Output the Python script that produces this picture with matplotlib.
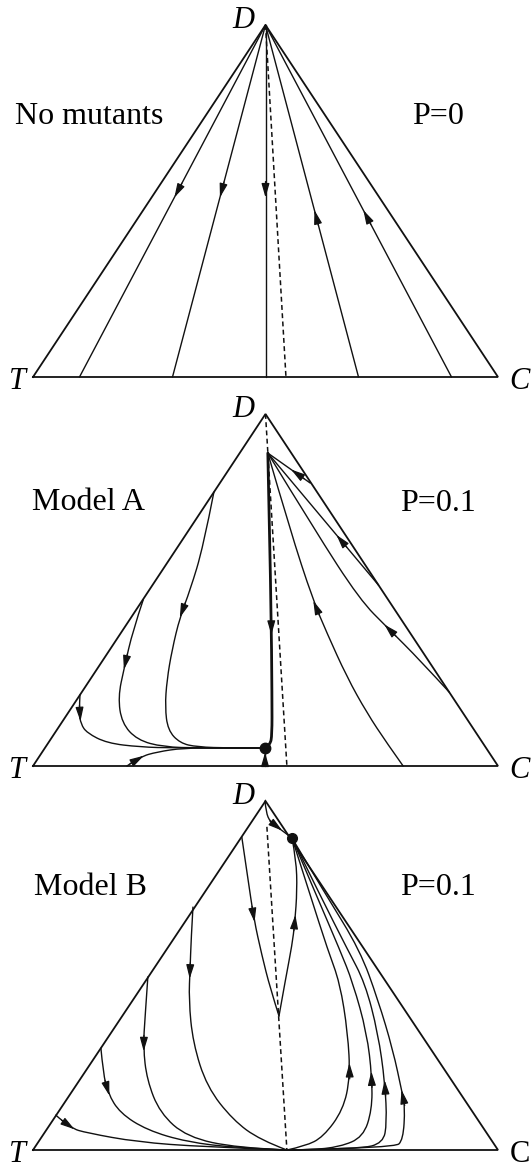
import numpy as np
import matplotlib
matplotlib.use('Agg')
import matplotlib.pyplot as plt
from matplotlib.path import Path
from matplotlib.patches import PathPatch

plt.rcParams['font.family'] = ['Liberation Serif', 'DejaVu Serif']

# positions are in the triangle plane: x runs T->C along the base, y is the share of D
# (T = (0,0), C = (1,0), D = (0.5,1))

# --- panel 1: no mutants, straight lines from D to the base
nomut_base_x = [0.1, 0.3, 0.5, 0.7, 0.9]
nomut_flow = ['down', 'down', 'down', 'up', 'up']
nomut_arrow = [0.49, 0.49, 0.49, 0.474, 0.474]
nomut_dash = [(0.5, 1.0), (0.544, 0.0)]

# --- panel 2: model A
a_dot = (0.499, 0.051)
a_dash = [(0.5, 1.0), (0.546, 0.0)]
a_stem = [(0.505, 0.889), (0.512, 0.472), (0.514, 0.188), (0.514, 0.088), (0.510, 0.060), (0.499, 0.051)]
a_right1 = [(0.596, 0.804), (0.505, 0.889)]
a_right2 = [(0.743, 0.514), (0.505, 0.889)]
a_right3 = [(0.895, 0.210), (0.832, 0.301), (0.763, 0.392), (0.703, 0.472), (0.606, 0.670), (0.505, 0.889)]
a_right4 = [(0.796, 0.0), (0.761, 0.065), (0.718, 0.151), (0.675, 0.253), (0.632, 0.378),
            (0.602, 0.472), (0.553, 0.670), (0.505, 0.889)]
a_left1 = [(0.389, 0.778), (0.366, 0.622), (0.338, 0.500), (0.316, 0.423), (0.299, 0.330), (0.288, 0.244),
           (0.284, 0.168), (0.290, 0.102), (0.316, 0.065), (0.353, 0.054), (0.424, 0.051), (0.499, 0.051)]
a_left2 = [(0.237, 0.472), (0.215, 0.386), (0.196, 0.278), (0.183, 0.196), (0.191, 0.122), (0.224, 0.074),
           (0.280, 0.054), (0.359, 0.051), (0.499, 0.051)]
a_left3 = [(0.101, 0.202), (0.099, 0.153), (0.103, 0.119), (0.116, 0.094), (0.159, 0.065), (0.230, 0.054),
           (0.305, 0.051), (0.499, 0.051)]
a_bottom = [(0.202, 0.0), (0.230, 0.026), (0.267, 0.040), (0.323, 0.051), (0.402, 0.051), (0.499, 0.051)]
a_below = [(0.499, 0.0), (0.499, 0.051)]

# --- panel 3: model B
b_dot = (0.557, 0.894)
b_dash = [(0.503, 0.926), (0.546, 0.0)]
b_top = [(0.499, 1.0), (0.501, 0.968), (0.510, 0.940), (0.531, 0.920), (0.557, 0.894)]
b_vee_down = [(0.449, 0.897), (0.462, 0.779), (0.475, 0.662), (0.492, 0.559), (0.510, 0.464), (0.529, 0.384)]
b_vee_up = [(0.529, 0.384), (0.544, 0.496), (0.557, 0.587), (0.563, 0.650), (0.568, 0.745),
            (0.566, 0.831), (0.557, 0.894)]
b_left1 = [(0.344, 0.696), (0.340, 0.602), (0.338, 0.524), (0.335, 0.430), (0.344, 0.307),
           (0.374, 0.181), (0.430, 0.086), (0.488, 0.029), (0.546, 0.0)]
b_left2 = [(0.247, 0.496), (0.241, 0.381), (0.237, 0.295), (0.245, 0.201), (0.273, 0.106),
           (0.331, 0.037), (0.439, 0.006), (0.546, 0.0)]
b_left3 = [(0.146, 0.292), (0.151, 0.221), (0.161, 0.163), (0.187, 0.106), (0.245, 0.057),
           (0.331, 0.023), (0.439, 0.006), (0.546, 0.0)]
b_left4 = [(0.049, 0.100), (0.080, 0.063), (0.116, 0.049), (0.224, 0.023), (0.366, 0.009), (0.546, 0.0)]
b_right1 = [(0.546, 0.0), (0.585, 0.011), (0.624, 0.037), (0.667, 0.115), (0.682, 0.209), (0.677, 0.335),
            (0.660, 0.479), (0.634, 0.573), (0.596, 0.731), (0.557, 0.894)]
b_right2 = [(0.546, 0.0), (0.596, 0.0), (0.660, 0.009), (0.710, 0.037), (0.729, 0.115), (0.729, 0.209),
            (0.718, 0.335), (0.688, 0.479), (0.660, 0.573), (0.609, 0.731), (0.557, 0.894)]
b_right3 = [(0.546, 0.0), (0.703, 0.003), (0.753, 0.020), (0.761, 0.077), (0.757, 0.192), (0.742, 0.335),
            (0.714, 0.479), (0.677, 0.573), (0.617, 0.731), (0.557, 0.894)]
b_right4 = [(0.546, 0.0), (0.778, 0.006), (0.796, 0.029), (0.800, 0.123), (0.794, 0.163), (0.774, 0.287),
            (0.742, 0.430), (0.703, 0.573), (0.630, 0.731), (0.557, 0.894)]

panel_titles = ['No mutants', 'Model A', 'Model B']
panel_params = ['P=0', 'P=0.1', 'P=0.1']

W, H = 531, 1168
fig = plt.figure(figsize=(W / 100, H / 100), dpi=100)
fig.patch.set_facecolor('white')

# base line (px from top) and triangle height (px) of each panel
panel_base = [377, 766, 1150]
panel_height = [352, 352, 349]
axes = []
for base, h in zip(panel_base, panel_height):
    ax = fig.add_axes([33 / W, 1 - base / H, 465 / W, h / H])
    ax.set_xlim(0, 1)
    ax.set_ylim(0, 1)
    ax.axis('off')
    axes.append(ax)

INK = '#111111'


def smooth(pts):
    # quadratic pieces through the midpoints, so corners get rounded off
    if len(pts) < 3:
        return Path(pts)
    verts, codes = [pts[0]], [Path.MOVETO]
    for i in range(1, len(pts) - 1):
        end = pts[-1] if i == len(pts) - 2 else (pts[i] + pts[i + 1]) / 2
        verts += [pts[i], end]
        codes += [Path.CURVE3, Path.CURVE3]
    return Path(verts, codes)


def draw_path(ax, pts, fracs=(), lw=1.0):
    pts = np.asarray(pts, dtype=float)
    ax.add_patch(PathPatch(smooth(pts), fill=False, edgecolor=INK, lw=lw, capstyle='round', clip_on=False))
    disp = ax.transData.transform(pts)
    seg = np.hypot(*np.diff(disp, axis=0).T)
    cum = np.concatenate([[0], np.cumsum(seg)])

    def at(s):
        s = np.clip(s, 0, cum[-1])
        i = int(np.clip(np.searchsorted(cum, s) - 1, 0, len(seg) - 1))
        t = (s - cum[i]) / seg[i]
        return disp[i] + t * (disp[i + 1] - disp[i])

    inv = ax.transData.inverted()
    for f in fracs:
        s = f * cum[-1]
        tip, back = at(s), at(s - 16)
        ax.annotate('', xy=inv.transform(tip), xytext=inv.transform(back),
                    arrowprops=dict(arrowstyle='-|>,head_length=0.7,head_width=0.2',
                                    color=INK, lw=0.9, shrinkA=0, shrinkB=0, mutation_scale=12))


def draw_frame(ax, dash, c_upright=False):
    ax.plot([0, 1, 0.5, 0], [0, 0, 1, 0], color=INK, lw=1.3, solid_joinstyle='miter', clip_on=False)
    (x0, y0), (x1, y1) = dash
    ax.plot([x0, x1], [y0, y1], color=INK, lw=1.1, linestyle=(0, (3.2, 2.2)), clip_on=False)
    ax.text(-0.033, -0.014, 'T', fontsize=22, style='italic', ha='center', va='center')
    ax.text(1.047, -0.012, 'C', fontsize=22, style='normal' if c_upright else 'italic',
            ha='center', va='center')
    ax.text(0.452, 1.012, 'D', fontsize=22, style='italic', ha='center', va='center')


# panel 1
ax = axes[0]
draw_frame(ax, nomut_dash)
for bx, flow, fr in zip(nomut_base_x, nomut_flow, nomut_arrow):
    line = [(0.5, 1.0), (bx, 0.0)] if flow == 'down' else [(bx, 0.0), (0.5, 1.0)]
    draw_path(ax, line, [fr])

# panel 2
ax = axes[1]
draw_frame(ax, a_dash)
draw_path(ax, a_stem, [0.61], lw=2.0)
draw_path(ax, a_right1, [0.45])
draw_path(ax, a_right2, [0.38])
draw_path(ax, a_right3, [0.31])
draw_path(ax, a_right4, [0.55])
draw_path(ax, a_left1, [0.375])
draw_path(ax, a_left2, [0.26])
draw_path(ax, a_left3, [0.12])
draw_path(ax, a_bottom, [0.14])
draw_path(ax, a_below, [0.75])
ax.plot(*a_dot, 'o', color=INK, markersize=7.5, clip_on=False)

# panel 3
ax = axes[2]
draw_frame(ax, b_dash, c_upright=True)
draw_path(ax, b_top, [0.75])
draw_path(ax, b_vee_down, [0.47])
draw_path(ax, b_vee_up, [0.57])
draw_path(ax, b_left1, [0.25])
draw_path(ax, b_left2, [0.27])
draw_path(ax, b_left3, [0.2])
draw_path(ax, b_left4, [0.1])
draw_path(ax, b_right1, [0.34])
draw_path(ax, b_right2, [0.37])
draw_path(ax, b_right3, [0.38])
draw_path(ax, b_right4, [0.38])
ax.plot(*b_dot, 'o', color=INK, markersize=7, clip_on=False)

# panel labels
label_pos = [(-0.039, 0.739, 0.815, 0.739), (-0.002, 0.75, 0.789, 0.747), (0.002, 0.751, 0.789, 0.751)]
for ax, title, par, (tx, ty, px, py) in zip(axes, panel_titles, panel_params, label_pos):
    ax.text(tx, ty, title, fontsize=23, ha='left', va='center')
    ax.text(px, py, par, fontsize=23, ha='left', va='center')

fig.savefig('out.png', dpi=100, facecolor='white')
